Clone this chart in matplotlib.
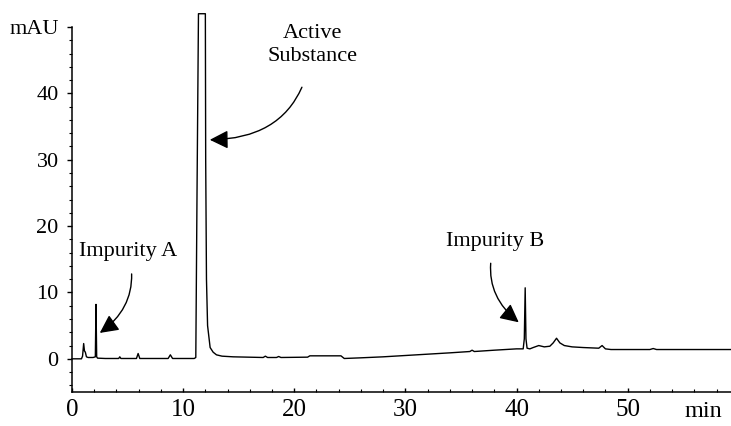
import matplotlib
matplotlib.use('Agg')
import matplotlib.pyplot as plt
from matplotlib.ticker import MultipleLocator

plt.rcParams['font.family'] = ['Liberation Serif', 'DejaVu Serif']

# chromatogram trace (time in min, absorbance in mAU)
time_min = [0, 0.85, 0.95, 1.05, 1.12, 1.2, 1.3, 1.45, 1.6, 1.9, 2.1, 2.16, 2.22, 2.3,
            3.0, 4.2, 4.3, 4.4, 5.8, 5.95, 6.1, 8.65, 8.85, 9.05, 11.0, 11.14, 11.25,
            11.38, 12.0, 12.03, 12.1, 12.2, 12.43, 12.7, 13.0, 13.5, 14.5, 17.2, 17.4,
            17.6, 18.4, 18.6, 18.8, 21.2, 21.4, 24.2, 24.5, 26, 28, 30, 32, 34, 35.8,
            36.0, 36.2, 38, 40.0, 40.6, 40.7, 40.78, 40.85, 40.95, 41.2, 41.5, 42.0,
            42.5, 43.0, 43.3, 43.6, 43.9, 44.3, 45, 46, 47.4, 47.7, 48.0, 48.5, 50,
            52, 52.3, 52.6, 55, 57, 59.3]
mau = [0, 0, 0.4, 2.3, 1.2, 1.0, 0.3, 0.2, 0.2, 0.2, 0.3, 8.2, 0.3, 0.1,
       0.05, 0.05, 0.3, 0.05, 0.05, 0.8, 0.05, 0.05, 0.6, 0.05, 0.05, 0.2, 25,
       52, 52, 30, 12, 5, 1.7, 1.0, 0.6, 0.4, 0.3, 0.2, 0.4,
       0.2, 0.2, 0.35, 0.2, 0.25, 0.45, 0.45, 0.05, 0.15, 0.3, 0.5, 0.7, 0.9, 1.1,
       1.3, 1.1, 1.3, 1.5, 1.5, 3.0, 10.7, 3.0, 1.6, 1.5, 1.7, 2.0,
       1.8, 1.9, 2.4, 3.1, 2.4, 2.0, 1.8, 1.7, 1.6, 2.0, 1.5, 1.4, 1.4,
       1.4, 1.55, 1.4, 1.4, 1.4, 1.4]

x_ticks = [0, 10, 20, 30, 40, 50]
y_ticks = [0, 10, 20, 30, 40, 50]
y_tick_labels = ['0', '10', '20', '30', '40', 'mAU']

fs = 16

fig = plt.figure(figsize=(7.31, 4.26), dpi=100)
ax = fig.add_axes([72 / 731, 34 / 426, 1 - 72 / 731, (392 - 27) / 426])

ax.plot(time_min, mau, color='black', lw=1.0, clip_on=False)

ax.set_xlim(0, 59.3)
ax.set_ylim(-5, 50)
ax.spines['top'].set_visible(False)
ax.spines['right'].set_visible(False)
ax.spines['left'].set_linewidth(1.1)
ax.spines['bottom'].set_linewidth(1.1)

ax.set_xticks(x_ticks)
ax.set_yticks(y_ticks)
ax.set_yticklabels(y_tick_labels)
ax.xaxis.set_minor_locator(MultipleLocator(2))
ax.yaxis.set_minor_locator(MultipleLocator(2))
ax.tick_params(axis='y', which='major', length=3.6, width=1, direction='out',
               labelsize=16, pad=6)
ax.tick_params(axis='y', which='minor', length=2.2, width=0.8, direction='out')
ax.tick_params(axis='x', which='major', length=3, width=1, direction='in',
               labelsize=18, pad=5)
ax.tick_params(axis='x', which='minor', length=2, width=0.8, direction='in')

ax.text(56.8, -6.3, 'min', fontsize=17.5, ha='center', va='top')

arrow = dict(arrowstyle='-|>', color='black', lw=1.0, mutation_scale=28)
ax.annotate('Active\nSubstance', xy=(12.4, 33), xytext=(21.6, 47.3),
            fontsize=fs, ha='center', va='center', linespacing=1.3,
            arrowprops=dict(arrow, connectionstyle='arc3,rad=-0.45',
                            shrinkA=14, shrinkB=0))
ax.annotate('Impurity A', xy=(2.5, 3.9), xytext=(5.05, 16.1),
            fontsize=fs, ha='center', va='center',
            arrowprops=dict(arrow, connectionstyle='arc3,rad=-0.35',
                            shrinkA=7, shrinkB=0))
ax.annotate('Impurity B', xy=(40.2, 5.5), xytext=(38.1, 17.7),
            fontsize=fs, ha='center', va='center',
            arrowprops=dict(arrow, connectionstyle='arc3,rad=0.35',
                            shrinkA=7, shrinkB=0))

fig.savefig('out.png', dpi=100)
